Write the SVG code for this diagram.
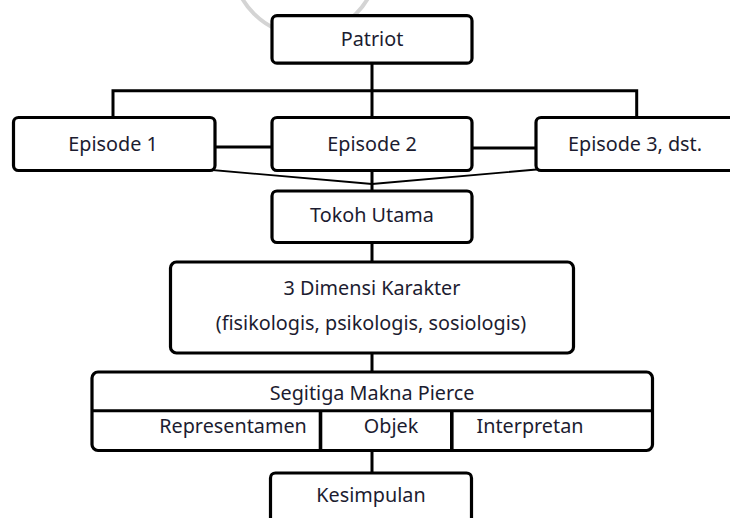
<svg xmlns="http://www.w3.org/2000/svg" width="730" height="518" viewBox="0 0 730 518">
<style>
.box{fill:#fff;stroke:#000;stroke-width:3.2}
.ln{fill:none;stroke:#000;stroke-width:3}
.thin{fill:none;stroke:#000;stroke-width:1.8}
text{font-family:"Noto Sans","Liberation Sans",sans-serif;font-size:19.8px;fill:#1c1c30;text-anchor:middle}
</style>
<rect width="730" height="518" fill="#fff"/>
<circle cx="305" cy="-37" r="72" fill="none" stroke="#d4d4d4" stroke-width="4"/>
<g id="connectors">
<path class="ln" d="M372 63 V118 M113 118 V90.7 H636.7 V118"/>
<path class="ln" d="M215 147 H272 M472 148 H536"/>
<path class="thin" d="M195 168.5 L372 184 L548 168.5"/>
<path class="ln" d="M372 170 V192 M372 242 V262 M372 353 V372 M372 450 V473"/>
</g>
<g id="patriot"><rect class="box" x="272" y="15.7" width="200" height="47.5" rx="5"/><text x="372" y="46">Patriot</text></g>
<g id="episode1"><rect class="box" x="13.5" y="117.5" width="201.5" height="53" rx="5"/><text x="113" y="151">Episode 1</text></g>
<g id="episode2"><rect class="box" x="272" y="117.5" width="200" height="53" rx="5"/><text x="372" y="151">Episode 2</text></g>
<g id="episode3"><rect class="box" x="536" y="117.5" width="200" height="53" rx="5"/><text x="635" y="151">Episode 3, dst.</text></g>
<g id="tokoh"><rect class="box" x="272" y="191" width="200" height="51.5" rx="5"/><text x="372" y="222">Tokoh Utama</text></g>
<g id="dimensi"><rect class="box" x="170.5" y="262" width="403" height="91" rx="6"/><text x="372" y="295">3 Dimensi Karakter</text><text x="371" y="330">(fisikologis, psikologis, sosiologis)</text></g>
<g id="segitiga"><rect class="box" x="92" y="372" width="560.5" height="78.5" rx="6"/>
<path class="ln" d="M92 410.7 H652.5"/><path class="ln" d="M320.5 410.7 V450" style="stroke-width:3.6"/><path class="ln" d="M451.8 410.7 V450" style="stroke-width:3.6"/>
<text x="372" y="400">Segitiga Makna Pierce</text><text x="233" y="433">Representamen</text><text x="391" y="433">Objek</text><text x="530" y="433">Interpretan</text></g>
<g id="kesimpulan"><rect class="box" x="270.5" y="473" width="201" height="60" rx="5"/><text x="371" y="502">Kesimpulan</text></g>
</svg>
